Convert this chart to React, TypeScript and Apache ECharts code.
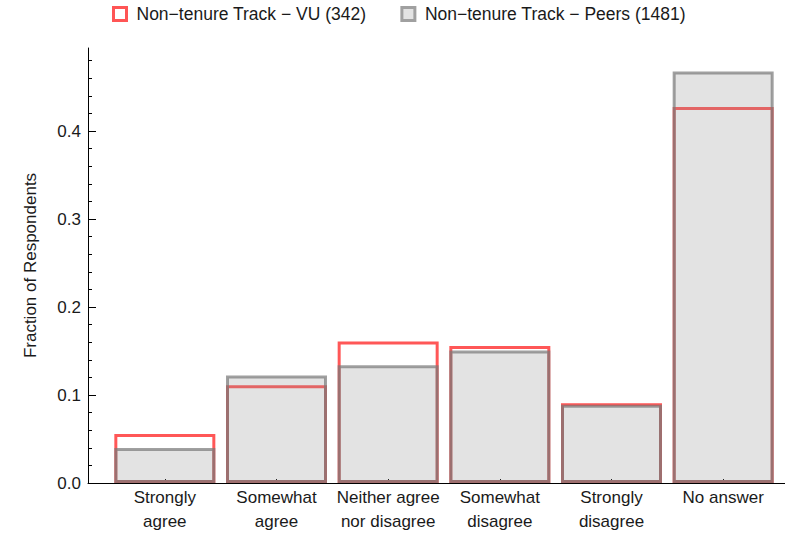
import React, { useEffect, useRef } from "react";
import * as echarts from "echarts";

const categories = [
  "Strongly\nagree",
  "Somewhat\nagree",
  "Neither agree\nnor disagree",
  "Somewhat\ndisagree",
  "Strongly\ndisagree",
  "No answer",
];
const vuValues = [0.0556, 0.1111, 0.1608, 0.1555, 0.0906, 0.4269];
const peersValues = [0.0398, 0.1222, 0.1337, 0.1505, 0.0888, 0.4673];
const vuName = "Non\u2212tenure Track \u2212 VU (342)";
const peersName = "Non\u2212tenure Track \u2212 Peers (1481)";
const yMajorMax = 0.4;
const yMinorMax = 0.48;
const yMax = 0.494;

const FONT = "'Liberation Sans', Arial, sans-serif";
const TEXT = "#1a1a1a";
const FS = 17;

export default function App() {
  const ref = useRef<HTMLDivElement>(null);
  useEffect(() => {
    if (!ref.current) return;
    const chart = echarts.init(ref.current, null, { renderer: "svg" });
    const hiddenX = (gi: number) => ({ type: "value", gridIndex: gi, min: 0, max: 1, show: false });
    chart.setOption({
      animation: false,
      textStyle: { fontFamily: FONT },
      legend: {
        top: 0,
        left: 107,
        itemWidth: 13,
        itemHeight: 13,
        itemGap: 34,
        textStyle: { fontSize: 17.5, color: TEXT, fontFamily: FONT, padding: [0, 0, 0, 5] },
        data: [
          {
            name: vuName,
            icon: "rect",
            itemStyle: { color: "#ffffff", borderColor: "#ff5555", borderWidth: 3 },
          },
          {
            name: peersName,
            icon: "rect",
            itemStyle: { color: "#e3e3e3", borderColor: "#a0a0a0", borderWidth: 3 },
          },
        ],
      },
      grid: [
        { left: 88, right: 0, top: 131, bottom: 61, containLabel: false },
        { left: 88, right: 0, top: 60.6, bottom: 61, containLabel: false },
        { left: 88, right: 0, top: 48, bottom: 61, containLabel: false },
        { left: 109, right: 6, top: 48, bottom: 61, containLabel: false },
      ],
      xAxis: [
        hiddenX(0),
        hiddenX(1),
        {
          type: "value",
          gridIndex: 2,
          min: 0,
          max: 1,
          axisLine: { show: true, lineStyle: { color: "#000", width: 1 } },
          axisTick: { show: false },
          axisLabel: { show: false },
          splitLine: { show: false },
        },
        {
          type: "category",
          gridIndex: 3,
          data: categories,
          axisLine: { show: false },
          axisTick: { show: true, inside: true, alignWithLabel: true, length: 4, lineStyle: { color: "#000" } },
          axisLabel: { fontSize: FS, color: TEXT, lineHeight: 24, margin: 2, interval: 0, fontFamily: FONT },
          splitLine: { show: false },
        },
      ],
      yAxis: [
        {
          type: "value",
          gridIndex: 0,
          min: 0,
          max: yMajorMax,
          interval: 0.1,
          axisLine: { show: false },
          axisTick: { show: true, inside: true, length: 8, lineStyle: { color: "#000" } },
          axisLabel: {
            fontSize: FS,
            color: TEXT,
            margin: 7,
            fontFamily: FONT,
            formatter: (v: number) => v.toFixed(1),
          },
          splitLine: { show: false },
        },
        {
          type: "value",
          gridIndex: 1,
          min: 0,
          max: yMinorMax,
          interval: 0.02,
          axisLine: { show: false },
          axisTick: { show: true, inside: true, length: 4, lineStyle: { color: "#000" } },
          axisLabel: { show: false },
          splitLine: { show: false },
        },
        {
          type: "value",
          gridIndex: 2,
          min: 0,
          max: yMax,
          name: "Fraction of Respondents",
          nameLocation: "middle",
          nameGap: 49,
          nameTextStyle: { fontSize: FS, color: TEXT, fontFamily: FONT },
          axisLine: { show: true, lineStyle: { color: "#000", width: 1 } },
          axisTick: { show: false },
          axisLabel: { show: false },
          splitLine: { show: false },
        },
        {
          type: "value",
          gridIndex: 3,
          min: 0,
          max: yMax,
          show: false,
          splitLine: { show: false },
        },
      ],
      series: [
        {
          name: vuName,
          type: "bar",
          xAxisIndex: 3,
          yAxisIndex: 3,
          data: vuValues,
          barWidth: 101,
          barGap: "-100%",
          itemStyle: { color: "rgba(255,255,255,0)", borderColor: "#ff5757", borderWidth: 3 },
        },
        {
          name: peersName,
          type: "bar",
          xAxisIndex: 3,
          yAxisIndex: 3,
          data: peersValues,
          barWidth: 101,
          barGap: "-100%",
          itemStyle: {
            color: "rgba(142,142,142,0.25)",
            borderColor: "rgba(120,120,120,0.7)",
            borderWidth: 3,
          },
        },
      ],
    });
    return () => chart.dispose();
  }, []);
  return (
    <div
      ref={ref}
      style={{ position: "fixed", left: 0, top: 0, width: 785, height: 544, background: "#fff" }}
    />
  );
}
